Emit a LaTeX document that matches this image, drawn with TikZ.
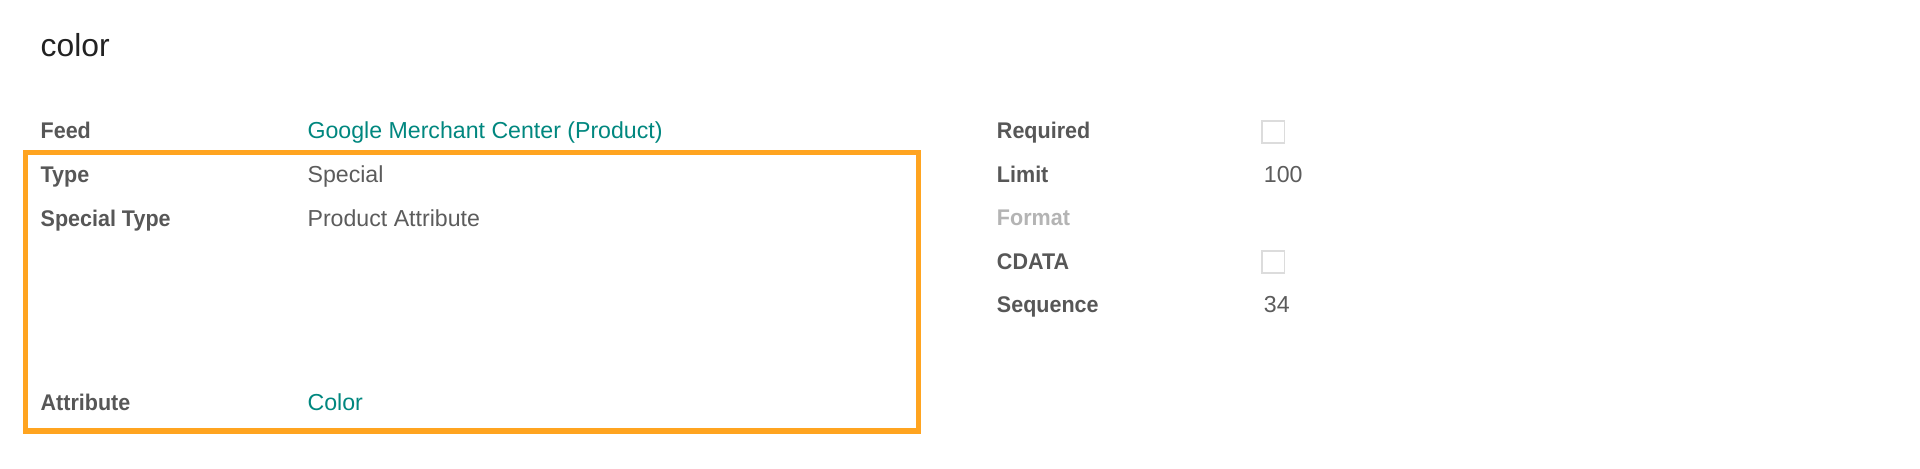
\documentclass[tikz,border=0pt]{standalone}
\usepackage{fontspec}
\setmainfont{Liberation Sans}[BoldFeatures={FakeStretch=0.95}]
\definecolor{lblc}{HTML}{575757}
\definecolor{valc}{HTML}{5C5C5C}
\definecolor{linkc}{HTML}{00877F}
\definecolor{dimc}{HTML}{B4B4B4}
\definecolor{titlec}{HTML}{222222}
\definecolor{chkc}{HTML}{DCDCDC}
\definecolor{hlc}{HTML}{FFA420}
\begin{document}
\begin{tikzpicture}[x=1pt,y=-1pt,
  lab/.style={anchor=base west,inner sep=0pt,font=\fontsize{18.5}{22}\selectfont\bfseries,text=lblc},
  dimlab/.style={lab,text=dimc},
  val/.style={anchor=base west,inner sep=0pt,font=\fontsize{18.9}{22}\selectfont,text=valc},
  linkval/.style={val,text=linkc},
  chk/.style={draw=chkc,line width=1.6pt,minimum size=18pt,inner sep=0pt,fill=white},
  hlbox/.style={draw=hlc,line width=4.5pt,inner sep=0pt}
]
\fill[white] (0,0) rectangle (1568,383);
\useasboundingbox (0,0) rectangle (1568,383);
% title
\node[anchor=base west,inner sep=0pt,font=\fontsize{26}{30}\selectfont,text=titlec] (title) at (33,46.5) {color};
% highlight box
\node[hlbox,minimum width=729pt,minimum height=227.5pt] (hl) at (385.5,238.25) {};
% left column
\node[lab] (feedL) at (33,113.5) {Feed};
\node[linkval] (feedV) at (251,113.5) {Google Merchant Center (Product)};
\node[lab] (typeL) at (33,149) {Type};
\node[val] (typeV) at (251,149) {Special};
\node[lab] (stypeL) at (33,185) {Special Type};
\node[val] (stypeV) at (251,185) {Product Attribute};
\node[lab] (attrL) at (33,335.5) {Attribute};
\node[linkval] (attrV) at (251,335.5) {Color};
% right column
\node[lab] (reqL) at (814,113.5) {Required};
\node[chk] (reqV) at (1040,107.5) {};
\node[lab] (limL) at (814,149) {Limit};
\node[val] (limV) at (1032,149) {100};
\node[dimlab] (fmtL) at (814,184.5) {Format};
\node[lab] (cdL) at (814,220) {CDATA};
\node[chk] (cdV) at (1040,214) {};
\node[lab] (seqL) at (814,255.5) {Sequence};
\node[val] (seqV) at (1032,255.5) {34};
\end{tikzpicture}
\end{document}
